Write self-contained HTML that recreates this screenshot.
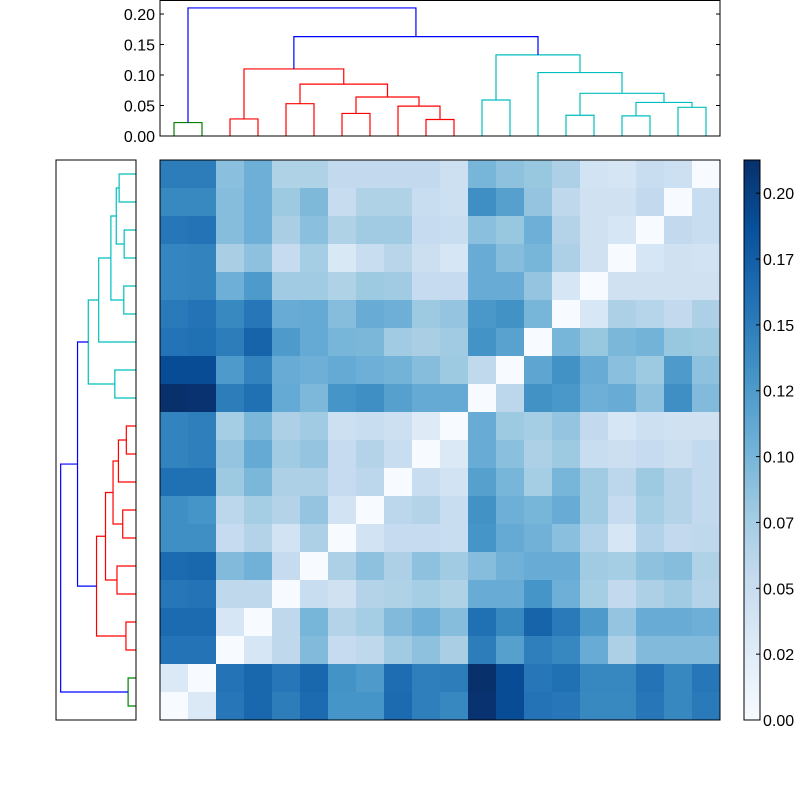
<!DOCTYPE html>
<html><head><meta charset="utf-8"><style>
body{margin:0;background:#fff;}
svg{display:block;font-family:"Liberation Sans","DejaVu Sans",sans-serif;}
</style></head><body>
<svg id="fig" width="800" height="800" viewBox="0 0 800 800">
<rect x="0" y="0" width="800" height="800" fill="#fff"/>
<g id="top-dendro"></g>
<g id="left-dendro"></g>
<g id="heat"></g>
<g id="cbar"></g>
</svg>
<script>
// ---- data ----
const matrixRows = [
[0.15,0.15,0.09,0.105,0.068,0.068,0.055,0.055,0.055,0.055,0.045,0.10,0.088,0.083,0.07,0.04,0.037,0.05,0.045,0],
[0.14,0.14,0.092,0.105,0.08,0.096,0.052,0.068,0.068,0.05,0.045,0.135,0.12,0.085,0.058,0.042,0.042,0.055,0,0.05],
[0.155,0.158,0.092,0.105,0.072,0.09,0.068,0.078,0.078,0.053,0.05,0.09,0.083,0.105,0.065,0.042,0.035,0,0.055,0.05],
[0.143,0.145,0.072,0.088,0.053,0.075,0.032,0.05,0.062,0.047,0.035,0.108,0.092,0.10,0.07,0.042,0,0.035,0.042,0.04],
[0.143,0.145,0.105,0.125,0.078,0.078,0.068,0.08,0.078,0.053,0.053,0.108,0.108,0.085,0.035,0,0.042,0.042,0.042,0.042],
[0.152,0.158,0.14,0.155,0.108,0.11,0.092,0.108,0.105,0.08,0.085,0.128,0.133,0.1,0,0.033,0.07,0.063,0.055,0.07],
[0.158,0.16,0.15,0.17,0.125,0.11,0.1,0.098,0.078,0.072,0.078,0.132,0.118,0,0.1,0.083,0.098,0.102,0.083,0.08],
[0.19,0.19,0.125,0.145,0.108,0.105,0.11,0.105,0.102,0.092,0.08,0.057,0,0.115,0.133,0.108,0.09,0.08,0.125,0.088],
[0.212,0.21,0.15,0.16,0.11,0.097,0.13,0.135,0.12,0.11,0.11,0,0.06,0.133,0.128,0.105,0.108,0.088,0.135,0.095],
[0.145,0.148,0.075,0.098,0.07,0.078,0.045,0.05,0.045,0.027,0,0.108,0.08,0.075,0.085,0.055,0.035,0.045,0.042,0.042],
[0.145,0.148,0.085,0.11,0.078,0.085,0.053,0.065,0.05,0,0.03,0.108,0.09,0.07,0.08,0.05,0.047,0.053,0.047,0.055],
[0.16,0.16,0.08,0.098,0.07,0.07,0.053,0.06,0,0.05,0.04,0.12,0.1,0.075,0.1,0.078,0.06,0.08,0.065,0.055],
[0.135,0.13,0.06,0.075,0.065,0.085,0.04,0,0.06,0.065,0.05,0.133,0.105,0.1,0.108,0.078,0.053,0.075,0.065,0.055],
[0.135,0.135,0.053,0.065,0.04,0.07,0,0.04,0.053,0.053,0.05,0.13,0.11,0.103,0.09,0.067,0.035,0.067,0.055,0.058],
[0.165,0.168,0.095,0.103,0.053,0,0.07,0.088,0.07,0.088,0.078,0.092,0.103,0.108,0.108,0.078,0.075,0.088,0.092,0.068],
[0.155,0.158,0.058,0.058,0,0.05,0.042,0.065,0.068,0.075,0.068,0.108,0.108,0.13,0.105,0.075,0.055,0.07,0.078,0.065],
[0.165,0.165,0.035,0,0.058,0.1,0.065,0.075,0.095,0.105,0.092,0.16,0.14,0.17,0.152,0.125,0.085,0.108,0.108,0.105],
[0.158,0.158,0,0.035,0.058,0.095,0.053,0.058,0.078,0.088,0.072,0.15,0.12,0.148,0.142,0.108,0.07,0.095,0.095,0.095],
[0.03,0,0.158,0.168,0.155,0.168,0.132,0.125,0.163,0.148,0.15,0.212,0.19,0.155,0.16,0.142,0.142,0.158,0.142,0.155],
[0,0.03,0.155,0.168,0.15,0.165,0.13,0.13,0.165,0.148,0.142,0.21,0.19,0.158,0.155,0.14,0.14,0.155,0.142,0.152]
];
// linkage merges: [childA, childB, height, colour-key]
const mergeA = [0,2,4,6,9,8,23,22,21,11,14,16,18,31,30,13,29,28,20];
const mergeB = [1,3,5,7,10,24,25,26,27,12,15,17,19,32,33,34,35,36,37];
const mergeH = [0.022,0.028,0.053,0.037,0.027,0.049,0.064,0.085,0.110,0.059,0.034,0.033,0.047,0.055,0.070,0.104,0.133,0.163,0.210];
const mergeC = ['g','r','r','r','r','r','r','r','r','c','c','c','c','c','c','c','c','b','b'];
const dendroTicks = [0,0.05,0.10,0.15,0.20];
const dendroTickLabels = ['0.00','0.05','0.10','0.15','0.20'];
const cbarTicks = [0,0.025,0.05,0.075,0.10,0.125,0.15,0.175,0.20];
const cbarTickLabels = ['0.00','0.02','0.05','0.07','0.10','0.12','0.15','0.17','0.20'];
const vmax = 0.2126;
const dMax = 0.223;

const NS='http://www.w3.org/2000/svg';
function mk(tag, attrs, parent){const e=document.createElementNS(NS,tag);for(const k in attrs)e.setAttribute(k,attrs[k]);parent.appendChild(e);return e;}
const colours={g:'#008000',r:'#ff0000',c:'#00bfbf',b:'#0000ff'};
const blues=[[247,251,255],[222,235,247],[198,219,239],[158,202,225],[107,174,214],[66,146,198],[33,113,181],[8,81,156],[8,48,107]];
function cmap(v){let t=Math.max(0,Math.min(1,v/vmax))*8;let i=Math.min(7,Math.floor(t));let f=t-i;const a=blues[i],b=blues[i+1];
 return 'rgb('+a.map((x,k)=>Math.round(x+(b[k]-x)*f)).join(',')+')';}

const N=20, HX0=160, HY0=160, HS=560, cell=HS/N;
// ---- heatmap ----
const heat=document.getElementById('heat');
matrixRows.forEach((row,r)=>row.forEach((v,c)=>{
 const e=mk('rect',{x:HX0+c*cell,y:HY0+r*cell,width:cell+0.5,height:cell+0.5,fill:cmap(v)},heat);
 
 
}));
const hf=mk('rect',{x:HX0,y:HY0,width:HS,height:HS,fill:'none',stroke:'#000','stroke-width':1},heat);



// ---- dendrogram geometry ----
const pos=[],hgt=[];
for(let i=0;i<N;i++){pos[i]=i*cell+cell/2;hgt[i]=0;}
mergeA.forEach((a,k)=>{const b=mergeB[k];pos[N+k]=(pos[a]+pos[b])/2;hgt[N+k]=mergeH[k];});

// top dendrogram: x 160-720, y 0..136
const td=document.getElementById('top-dendro');
const TY0=136, TYs=(136-0)/dMax;
const ty=v=>TY0-v*TYs;
mergeA.forEach((a,k)=>{const b=mergeB[k];const h=mergeH[k];
 const x1=HX0+pos[a],x2=HX0+pos[b];
 const p=mk('path',{d:`M${x1},${ty(hgt[a])}V${ty(h)}H${x2}V${ty(hgt[b])}`,fill:'none',stroke:colours[mergeC[k]],'stroke-width':1.2},td);
 
 
});
const tf=mk('rect',{x:HX0,y:0.5,width:HS,height:TY0-0.5,fill:'none',stroke:'#000','stroke-width':1},td);


dendroTicks.forEach((v,i)=>{
 mk('line',{x1:HX0,x2:HX0+4,y1:ty(v),y2:ty(v),stroke:'#000'},td);
 mk('line',{x1:HX0+HS,x2:HX0+HS-4,y1:ty(v),y2:ty(v),stroke:'#000'},td);
 const t=mk('text',{x:155,y:ty(v)+6,'text-anchor':'end','font-size':16,fill:'#000'},td);
 t.textContent=dendroTickLabels[i];
 
 
});

// left dendrogram: x 56-136, y 160-720, leaves bottom-up
const ld=document.getElementById('left-dendro');
const LX0=136, LXs=80/dMax;
const lx=v=>LX0-v*LXs;
const ly=p=>HY0+HS-p;
mergeA.forEach((a,k)=>{const b=mergeB[k];const h=mergeH[k];
 const p=mk('path',{d:`M${lx(hgt[a])},${ly(pos[a])}H${lx(h)}V${ly(pos[b])}H${lx(hgt[b])}`,fill:'none',stroke:colours[mergeC[k]],'stroke-width':1.2},ld);
 
 
});
const lf=mk('rect',{x:56,y:HY0,width:80,height:HS,fill:'none',stroke:'#000','stroke-width':1},ld);



// ---- colorbar ----
const cb=document.getElementById('cbar');
const defs=mk('defs',{},cb);
const lg=mk('linearGradient',{id:'cbg',x1:0,y1:1,x2:0,y2:0},defs);
blues.forEach((c,i)=>mk('stop',{offset:i/8,'stop-color':'rgb('+c.join(',')+')'},lg));
const CX=744,CW=16;
const cy=v=>HY0+HS-v/vmax*HS;
const cr=mk('rect',{x:CX,y:HY0,width:CW,height:HS,fill:'url(#cbg)',stroke:'#000','stroke-width':1},cb);


cbarTicks.forEach((v,i)=>{
 mk('line',{x1:CX+CW-4,x2:CX+CW,y1:cy(v),y2:cy(v),stroke:'#000'},cb);
 const t=mk('text',{x:763,y:cy(v)+6,'font-size':16,fill:'#000'},cb);
 t.textContent=cbarTickLabels[i];
 
 
});
</script>
</body></html>
